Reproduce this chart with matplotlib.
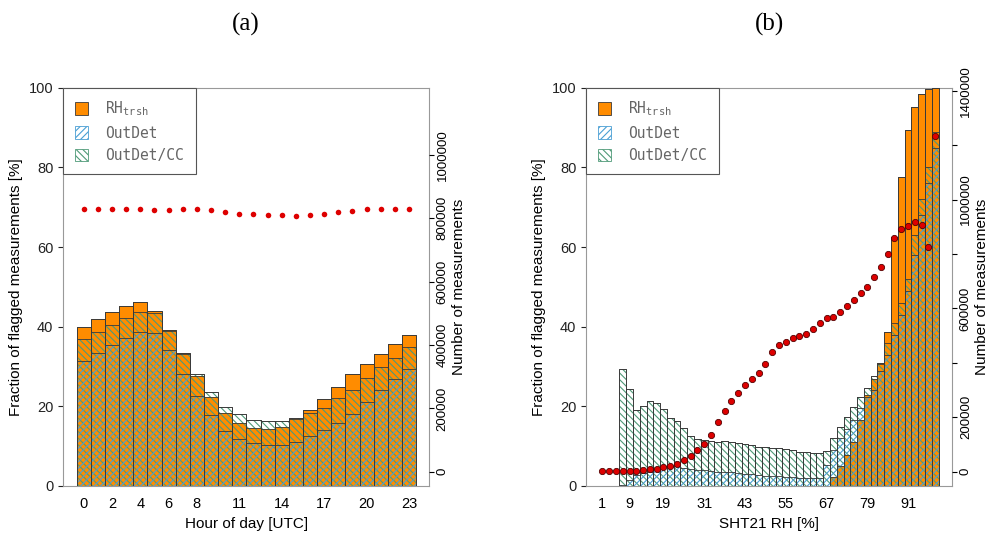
import numpy as np
import matplotlib.pyplot as plt
from matplotlib.patches import Patch

plt.rcParams['hatch.linewidth'] = 0.8
plt.rcParams['font.family'] = ['Liberation Sans', 'DejaVu Sans']

ORANGE = '#ff8c00'
BLUE = '#4a9fd4'
GREEN = '#4f9a78'
EDGE = '#3a3a3a'

# panel (a): hour of day
hours = np.arange(24)
a_rh = [39.9, 41.9, 43.6, 45.3, 46.1, 44.0, 39.1, 33.3, 27.6, 22.4, 18.4, 15.8,
        14.6, 14.3, 14.8, 16.8, 19.0, 21.9, 24.8, 28.1, 30.7, 33.2, 35.7, 37.9]
a_cc = [36.9, 38.6, 40.5, 42.1, 43.6, 43.4, 38.9, 33.1, 28.2, 23.5, 19.9, 18.0,
        16.5, 16.3, 16.3, 17.0, 18.3, 19.5, 22.0, 24.1, 27.1, 29.8, 32.2, 34.8]
a_od = [31.4, 33.3, 35.3, 37.1, 38.8, 38.4, 34.1, 28.1, 22.6, 17.8, 13.8, 11.7,
        10.7, 10.3, 10.3, 11.1, 12.6, 14.1, 15.8, 18.1, 21.0, 24.1, 26.8, 29.3]
a_n = [830000, 831000, 830000, 828000, 828000, 825000, 825000, 828000, 830000,
       825000, 821000, 815000, 815000, 811000, 809000, 808000, 811000, 815000,
       819000, 822000, 828000, 831000, 831000, 830000]
a_ticks = [0, 2, 4, 6, 8, 11, 14, 17, 20, 23]

# panel (b): SHT21 RH bins
rh_bins = np.arange(7, 100, 2)
b_rh = [0] * 31 + [2.3, 4.9, 7.8, 11.1, 16.6, 22.9, 26.8, 31.0,
                   38.8, 62.6, 77.7, 89.4, 95.1, 98.5, 99.6, 100.0]
b_cc = [29.3, 24.3, 19.1, 20.1, 21.3, 20.9, 19.3, 17.0, 16.4, 14.5, 12.6, 11.8,
        11.6, 11.3, 11.1, 11.3, 11.1, 10.7, 10.6, 10.3, 9.9, 9.7, 9.6, 9.5, 9.3,
        9.0, 8.6, 8.5, 8.3, 8.3, 8.9, 12.0, 14.9, 17.4, 19.9, 22.4, 24.5, 27.6,
        30.6, 36.0, 41.0, 46.0, 52.0, 63.0, 72.0, 80.0, 89.0]
b_od = [0.3, 1.6, 2.7, 3.2, 3.6, 4.2, 4.9, 5.1, 4.9, 4.5, 4.2, 4.0, 3.9, 3.8,
        3.6, 3.5, 3.4, 3.2, 3.0, 2.9, 2.8, 2.6, 2.5, 2.4, 2.3, 2.2, 2.1, 2.0,
        1.9, 1.9, 5.3, 9.0, 12.0, 14.2, 16.6, 19.5, 22.4, 24.0, 29.0, 33.0,
        38.0, 43.0, 49.0, 58.0, 68.0, 76.0, 85.0]
rh_pts = np.arange(1, 100, 2)
b_n = [3000, 3000, 3000, 3000, 3000, 4000, 6000, 9000, 11000, 16000, 21000,
       28000, 43000, 59000, 80000, 102000, 135000, 184000, 223000, 260000,
       290000, 319000, 340000, 362000, 395000, 438000, 466000, 478000, 490000,
       499000, 506000, 523000, 546000, 564000, 570000, 587000, 609000, 631000,
       656000, 677000, 715000, 751000, 799000, 858000, 892000, 903000, 916000,
       907000, 827000, 1232000]
b_ticks = [1, 9, 19, 31, 43, 55, 67, 79, 91]


def draw_bars(ax, x, rh, cc, od, width):
    ax.bar(x, rh, width, color=ORANGE, lw=0, zorder=1)
    ax.bar(x, cc, width, fill=False, hatch='\\\\\\\\\\', edgecolor=GREEN, lw=0, zorder=2)
    ax.bar(x, od, width, fill=False, hatch='/////', edgecolor=BLUE, lw=0, zorder=3)
    top = np.maximum(np.maximum(rh, cc), od)
    for h in (rh, cc, od, top):
        ax.bar(x, h, width, fill=False, edgecolor=EDGE, lw=0.6, zorder=4)


def legend(ax):
    handles = [Patch(facecolor=ORANGE, edgecolor=EDGE, lw=0.6),
               Patch(facecolor='white', hatch='/////', edgecolor=BLUE, lw=0.6),
               Patch(facecolor='white', hatch='\\\\\\\\\\', edgecolor=GREEN, lw=0.6)]
    labels = [r'RH$_{\mathtt{trsh}}$', 'OutDet', 'OutDet/CC']
    leg = ax.legend(handles, labels, loc='upper left', borderaxespad=0,
                    fancybox=False, framealpha=1, edgecolor='#555555',
                    prop={'family': 'DejaVu Sans Mono', 'size': 10.5},
                    handlelength=0.9, handleheight=0.9, labelcolor='#666666',
                    borderpad=0.8, handletextpad=1.2)
    leg.get_frame().set_linewidth(0.8)
    leg.set_zorder(10)


def style(ax, ax2, ylim2, yticks2):
    ax.set_ylim(0, 100)
    ax.set_yticks(range(0, 101, 20))
    ax.tick_params(axis='x', length=0, labelsize=10.5, pad=8)
    ax.tick_params(axis='y', labelsize=10.5, direction='out', colors='#222222')
    ax.set_ylabel('Fraction of flagged measurements [%]', fontsize=11)
    for s in ax.spines.values():
        s.set_color('#999999')
    ax2.set_ylim(*ylim2)
    ax2.set_yticks(yticks2)
    ax2.set_yticklabels([str(t) for t in yticks2], rotation=90, va='center')
    ax2.tick_params(axis='y', labelsize=9.5, pad=2)
    ax2.set_ylabel('Number of measurements', fontsize=11, labelpad=2)
    for s in ax2.spines.values():
        s.set_visible(False)


fig = plt.figure(figsize=(9.95, 5.38), dpi=100)

ax = fig.add_axes([0.0633, 0.0967, 0.368, 0.740])
draw_bars(ax, hours, np.array(a_rh), np.array(a_cc), np.array(a_od), 1.0)
ax.set_xlim(-1.47, 24.42)
ax.set_xticks(a_ticks)
ax.set_xlabel('Hour of day [UTC]', fontsize=11)
ax2 = ax.twinx()
ax2.plot(hours, a_n, 'o', color='#dd0000', ms=4, mec='none')
style(ax, ax2, (-45000, 1212000), list(range(0, 1000001, 200000)))
legend(ax)
fig.text(0.2467, 0.955, '(a)', ha='center', va='center', fontsize=18, family='Liberation Serif')

bx = fig.add_axes([0.589, 0.0967, 0.368, 0.740])
draw_bars(bx, rh_bins, np.array(b_rh), np.array(b_cc), np.array(b_od), 2.0)
bx.set_xlim(-3.8, 104)
bx.set_xticks(b_ticks)
bx.set_xlabel('SHT21 RH [%]', fontsize=11)
bx2 = bx.twinx()
bx2.plot(rh_pts, b_n, 'o', color='#dd0000', ms=4.5, mec='#550000', mew=0.6)
style(bx, bx2, (-52600, 1410700), list(range(0, 1400001, 200000)))
bx2.set_yticklabels(['0', '200000', '', '600000', '', '1000000', '', '1400000'])
legend(bx)
fig.text(0.773, 0.955, '(b)', ha='center', va='center', fontsize=18, family='Liberation Serif')

fig.savefig('out.png', dpi=100)
